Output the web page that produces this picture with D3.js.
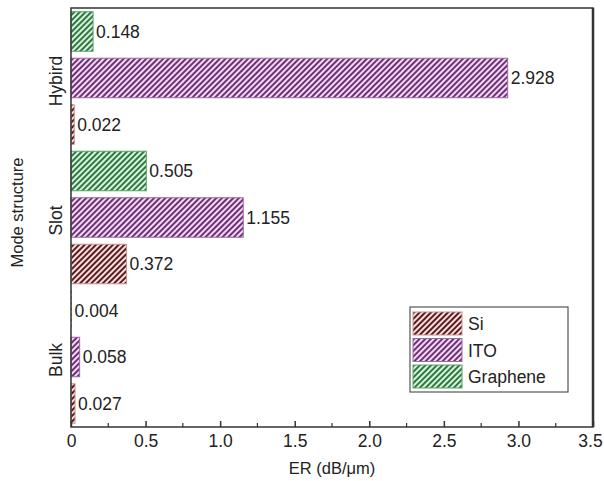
<!DOCTYPE html>
<html>
<head>
<meta charset="utf-8">
<script src="https://cdn.jsdelivr.net/npm/d3@7"></script>
<style>
  body { margin: 0; background: #fff; }
  text { font-family: "Liberation Sans", Arial, sans-serif; fill: #222; }
</style>
</head>
<body>
<svg id="chart" width="604" height="481"></svg>
<script>
// mode structures (bottom to top) and materials
var structures = ['Bulk', 'Slot', 'Hybird']
var materials = ['Si', 'ITO', 'Graphene']

// ER values (dB/um) per structure, same order as structures
var siValues = [0.027, 0.372, 0.022]
var itoValues = [0.058, 1.155, 2.928]
var grapheneValues = [0.004, 0.505, 0.148]

var xTicks = [0, 0.5, 1.0, 1.5, 2.0, 2.5, 3.0, 3.5]
var xTickLabels = ['0', '0.5', '1.0', '1.5', '2.0', '2.5', '3.0', '3.5']

var styles = {
    Si: {line: '#5a1c20', fill: '#f9e0dc', border: '#c99494'},
    ITO: {line: '#6a3474', fill: '#f6d8f6', border: '#9a6aa0'},
    Graphene: {line: '#2a7a42', fill: '#dcf2dc', border: '#5aa36a'}
}

var fontSize = '17.5px'
var margin = {top: 8, right: 11, bottom: 54, left: 71}
var width = 604, height = 481

var svg = d3.select('#chart')

// one row for each bar, top row first
var rows = []
var series = {Si: siValues, ITO: itoValues, Graphene: grapheneValues}
structures.slice().reverse().forEach(function(s) {
    var i = structures.indexOf(s)
    materials.slice().reverse().forEach(function(m) {
        rows.push({structure: s, material: m, value: series[m][i], key: s + '-' + m})
    })
})

var x = d3.scaleLinear().domain([0, 3.5]).range([margin.left, width - margin.right])
var y = d3.scaleBand().domain(rows.map(d => d.key))
    .range([margin.top, height - margin.bottom]).paddingInner(0.15).paddingOuter(0.08)

// hatch patterns
var defs = svg.append('defs')
materials.forEach(function(m) {
    var p = defs.append('pattern')
        .attr('id', 'hatch-' + m)
        .attr('patternUnits', 'userSpaceOnUse')
        .attr('width', 4).attr('height', 4)
        .attr('patternTransform', 'rotate(45)')
    p.append('rect').attr('width', 4).attr('height', 4).attr('fill', styles[m].fill)
    p.append('line').attr('x1', 1).attr('y1', 0).attr('x2', 1).attr('y2', 4)
        .attr('stroke', styles[m].line).attr('stroke-width', 2)
})

// bars
svg.append('g').selectAll('rect')
    .data(rows)
    .enter()
    .append('rect')
    .attr('x', x(0))
    .attr('y', d => y(d.key))
    .attr('width', d => x(d.value) - x(0))
    .attr('height', y.bandwidth())
    .attr('fill', d => 'url(#hatch-' + d.material + ')')
    .attr('stroke', d => styles[d.material].border)
    .attr('stroke-width', d => d.value < 0.01 ? 0 : 1)

// value labels
svg.append('g').selectAll('text')
    .data(rows)
    .enter()
    .append('text')
    .attr('x', d => x(d.value) + 3)
    .attr('y', d => y(d.key) + y.bandwidth() / 2)
    .attr('dy', '0.35em')
    .style('font-size', fontSize)
    .text(d => d3.format('.3f')(d.value))

// x axis, ticks pointing inward
var xAxis = svg.append('g')
    .attr('transform', 'translate(0,' + (height - margin.bottom) + ')')
    .call(d3.axisBottom(x).tickValues(xTicks).tickSizeInner(-6).tickSizeOuter(0)
        .tickFormat((d, i) => xTickLabels[i]))
xAxis.select('.domain').remove()
xAxis.selectAll('.tick line').attr('stroke', '#333').attr('stroke-width', 1.5)
xAxis.selectAll('.tick text').attr('dy', 0).attr('y', 20)
    .attr('x', d => d === 3.5 ? -3 : 0)   // keep last label inside the page
    .style('font-size', fontSize).style('font-family', '"Liberation Sans", Arial, sans-serif').attr('fill', '#222')

// minor ticks
svg.append('g').selectAll('line')
    .data(d3.range(0.25, 3.5, 0.5))
    .enter()
    .append('line')
    .attr('x1', d => x(d)).attr('x2', d => x(d))
    .attr('y1', height - margin.bottom).attr('y2', height - margin.bottom - 4)
    .attr('stroke', '#333').attr('stroke-width', 1.2)

// frame
svg.append('rect')
    .attr('x', margin.left).attr('y', margin.top)
    .attr('width', width - margin.left - margin.right)
    .attr('height', height - margin.top - margin.bottom)
    .attr('fill', 'none').attr('stroke', '#333').attr('stroke-width', 1.5)
svg.append('line')
    .attr('x1', width - margin.right).attr('x2', width - margin.right)
    .attr('y1', margin.top).attr('y2', height - margin.bottom)
    .attr('stroke', '#333').attr('stroke-width', 2.5)

// structure labels, rotated
svg.append('g').selectAll('text')
    .data(structures)
    .enter()
    .append('text')
    .attr('transform', d => 'translate(62,' + (y(d + '-ITO') + y.bandwidth() / 2 + 3) + ') rotate(-90)')
    .attr('text-anchor', 'middle')
    .style('font-size', fontSize)
    .text(d => d)

// axis titles
svg.append('text')
    .attr('x', (margin.left + width - margin.right) / 2)
    .attr('y', 474)
    .attr('text-anchor', 'middle')
    .style('font-size', '16.5px')
    .text('ER (dB/\u03bcm)')

svg.append('text')
    .attr('transform', 'translate(23,' + ((margin.top + height - margin.bottom) / 2 - 5) + ') rotate(-90)')
    .attr('text-anchor', 'middle')
    .style('font-size', '16.5px')
    .text('Mode structure')

// legend
var legend = svg.append('g').attr('transform', 'translate(410,307)')
legend.append('rect')
    .attr('width', 158).attr('height', 85)
    .attr('fill', '#fff').attr('stroke', '#555').attr('stroke-width', 1.2)
var item = legend.selectAll('g.item')
    .data(materials)
    .enter()
    .append('g')
    .attr('class', 'item')
    .attr('transform', (d, i) => 'translate(3,' + (5 + i * 26.5) + ')')
item.append('rect')
    .attr('width', 49).attr('height', 23)
    .attr('fill', d => 'url(#hatch-' + d + ')')
    .attr('stroke', d => styles[d].border).attr('stroke-width', 1)
item.append('text')
    .attr('x', 55).attr('y', 12).attr('dy', '0.35em')
    .style('font-size', fontSize)
    .text(d => d)
</script>
</body>
</html>
